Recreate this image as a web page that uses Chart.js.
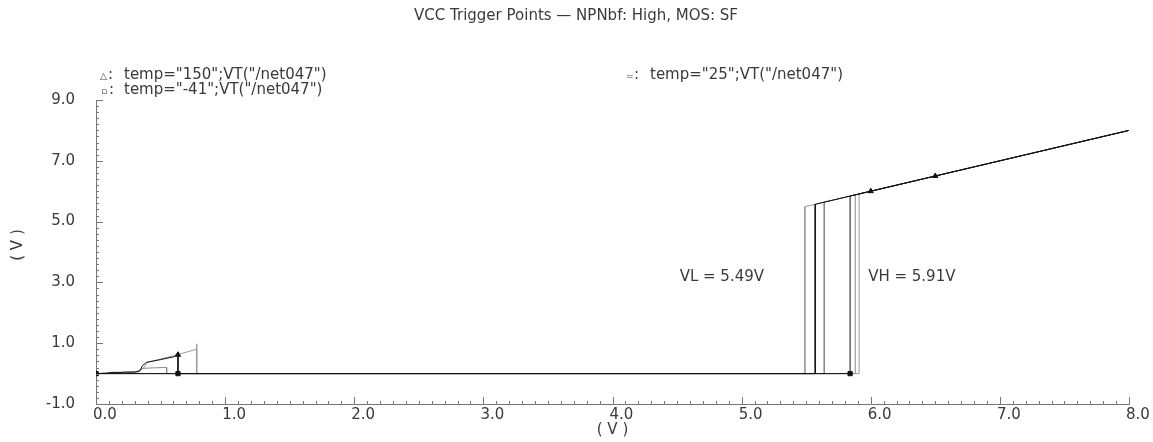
<!DOCTYPE html>
<html><head><meta charset="utf-8">
<script src="https://cdn.jsdelivr.net/npm/chart.js@4.4.0/dist/chart.umd.min.js"></script>
<style>html,body{margin:0;padding:0;background:#fff;}#wrap{width:1153px;height:442px;}</style>
</head><body><div id="wrap"><canvas id="c" width="1153" height="442"></canvas></div>
<script>
const chartTitle = "VCC Trigger Points — NPNbf: High, MOS: SF";
const legend150 = 'temp="150";VT("/net047")';
const legendM41 = 'temp="-41";VT("/net047")';
const legend25 = 'temp="25";VT("/net047")';
const noteVL = "VL = 5.49V";
const noteVH = "VH = 5.91V";
const axisUnit = "( V )";
const xTickValues = [0, 1, 2, 3, 4, 5, 6, 7, 8];
const yTickValues = [-1, 1, 3, 5, 7, 9];

// temp = 150 (black): up sweep, then down sweep
const t150X = [0, 0.08, 0.12, 0.17, 0.22, 0.30, 0.34, 0.36, 0.39, 0.50, 0.61, 0.635, 0.635, 5.84, 5.84, 8.0, 5.57, 5.57, 0];
const t150Y = [0, 0.01, 0.04, 0.03, 0.05, 0.05, 0.10, 0.26, 0.37, 0.46, 0.56, 0.70, 0, 0, 5.84, 8.0, 5.57, 0, 0];
// temp = 25 (gray)
const t25X = [0, 0.10, 0.15, 0.20, 0.30, 0.33, 0.35, 0.45, 0.53, 0.547, 0.547, 5.88, 5.88, 8.0, 5.64, 5.64, 0];
const t25Y = [0, 0.02, 0.05, 0.04, 0.06, 0.07, 0.17, 0.19, 0.20, 0.20, 0, 0, 5.88, 8.0, 5.64, 0, 0];
// temp = -41 (light gray)
const tm41X = [0, 0.10, 0.20, 0.33, 0.37, 0.40, 0.61, 0.78, 0.78, 0.78, 5.91, 5.91, 8.0, 5.49, 5.49, 0];
const tm41Y = [0, 0.02, 0.03, 0.05, 0.20, 0.37, 0.60, 0.80, 0.98, 0, 0, 5.91, 8.0, 5.49, 0, 0];

// marker positions
const triX = [0, 0.635, 6.0, 6.5];
const triY = [0, 0.62, 6.0, 6.5];
const boxX = [0, 0.635, 5.84];
const boxY = [0, 0, 0];

const pts = (xs, ys) => xs.map((x, i) => ({x, y: ys[i]}));
const FONT = 'DejaVu Sans';
const TXT = '#3a3a3a';

const lineDs = (label, xs, ys, color) => ({
  label, data: pts(xs, ys), borderColor: color, borderWidth: 1,
  pointRadius: 0, showLine: true, fill: false, tension: 0
});
const markDs = (label, xs, ys, style) => ({
  label, data: pts(xs, ys), showLine: false, pointStyle: style,
  pointRadius: 3, backgroundColor: '#111', borderColor: '#111', borderWidth: 1
});

const innerTicks = {
  id: 'innerTicks',
  afterDraw(chart) {
    const {ctx, scales: {x, y}, chartArea: a} = chart;
    ctx.save();
    ctx.strokeStyle = '#777';
    ctx.lineWidth = 1;
    ctx.beginPath();
    for (let i = 0; i <= 80; i++) {
      const px = Math.round(x.getPixelForValue(i / 10)) + 0.5;
      const len = i % 10 === 0 ? 7 : 3;
      ctx.moveTo(px, a.bottom); ctx.lineTo(px, a.bottom - len);
    }
    for (let i = 0; i <= 50; i++) {
      const py = Math.round(y.getPixelForValue(-1 + i * 0.2)) + 0.5;
      const len = i % 10 === 0 ? 7 : 3;
      ctx.moveTo(a.left, py); ctx.lineTo(a.left + len, py);
    }
    ctx.stroke();
    ctx.restore();
  }
};

const texts = {
  id: 'texts',
  afterDraw(chart) {
    const {ctx, scales: {x, y}} = chart;
    ctx.save();
    ctx.fillStyle = TXT;
    ctx.textBaseline = 'middle';
    ctx.font = '15px "' + FONT + '"';
    ctx.textAlign = 'center';
    ctx.fillText(chartTitle, 576, 16);
    // y axis title
    ctx.save();
    ctx.translate(18, 245);
    ctx.rotate(-Math.PI / 2);
    ctx.fillText(axisUnit, 0, 0);
    ctx.restore();
    ctx.textAlign = 'left';
    // legend lines
    const sym = (s, px, py) => { ctx.font = '9px "' + FONT + '"'; ctx.fillText(s, px, py + 2); ctx.font = '15px "' + FONT + '"'; ctx.fillText(':', px + 8, py); };
    sym('△', 100, 75); ctx.fillText(legend150, 124, 75);
    sym('▫', 101, 90); ctx.fillText(legendM41, 124, 90);
    sym('=', 626, 75); ctx.fillText(legend25, 650, 75);
    // annotations
    ctx.fillText(noteVL, x.getPixelForValue(4.52), y.getPixelForValue(3.18));
    ctx.fillText(noteVH, x.getPixelForValue(5.98), y.getPixelForValue(3.18));
    ctx.restore();
  }
};

new Chart(document.getElementById('c'), {
  type: 'scatter',
  data: {
    datasets: [
      markDs('150 markers', triX, triY, 'triangle'),
      markDs('-41 markers', boxX, boxY, 'rect'),
      lineDs('temp=150', t150X, t150Y, '#111'),
      lineDs('temp=25', t25X, t25Y, '#888'),
      lineDs('temp=-41', tm41X, tm41Y, '#9a9a9a')
    ]
  },
  options: {
    responsive: false, animation: false, devicePixelRatio: 1,
    layout: {padding: {top: 100, right: 24, left: 0, bottom: 0}},
    plugins: {legend: {display: false}, tooltip: {enabled: false}, title: {display: false}},
    scales: {
      x: {
        type: 'linear', min: 0, max: 8,
        afterBuildTicks: s => { s.ticks = xTickValues.map(v => ({value: v})); },
        afterFit: s => { s.height = 38; s.paddingLeft = 0; s.paddingRight = 0; },
        grid: {display: false, drawTicks: false},
        border: {display: true, color: '#777', width: 1},
        ticks: {align: 'start', labelOffset: -3, padding: 2, color: TXT, autoSkip: false, maxRotation: 0,
          font: {family: FONT, size: 15}, callback: v => Number(v).toFixed(1)},
        title: {display: true, text: axisUnit, color: TXT, font: {family: FONT, size: 15}, padding: {top: 0, bottom: 3}}
      },
      y: {
        type: 'linear', min: -1, max: 9,
        afterBuildTicks: s => { s.ticks = yTickValues.map(v => ({value: v})); },
        afterFit: s => { s.width = 96; s.paddingTop = 0; s.paddingBottom = 0; },
        grid: {display: false, drawTicks: false},
        border: {display: true, color: '#777', width: 1},
        ticks: {padding: 21, color: TXT, autoSkip: false,
          font: {family: FONT, size: 15}, callback: v => Number(v).toFixed(1)}
      }
    }
  },
  plugins: [innerTicks, texts]
});
</script>
</body></html>
